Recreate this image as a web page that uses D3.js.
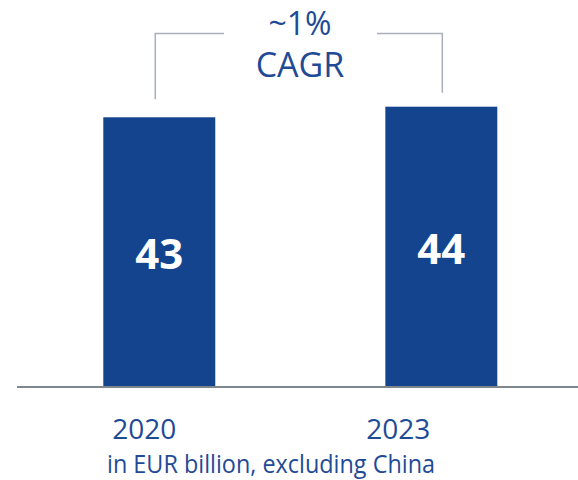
<!DOCTYPE html>
<html>
<head>
<meta charset="utf-8">
<script src="https://cdn.jsdelivr.net/npm/d3@7"></script>
<style>
  html, body { margin: 0; padding: 0; background: #fff; }
  svg { display: block; font-family: "Open Sans", "Noto Sans", sans-serif; }
</style>
</head>
<body>
<svg id="chart" width="578" height="480"></svg>
<script>
// chart data
const years = ["2020", "2023"];
const revenue = [43, 44];
const cagrLabel = ["~1%", "CAGR"];
const unitNote = "in EUR billion, excluding China";

const blue = "#15448f";
const textBlue = "#1f4b96";

let svg = d3.select("#chart");
let baseY = 387;

// band scale for the two bars
let x = d3.scaleBand()
    .domain(years)
    .range([17, 583.6])
    .paddingInner(0.603)
    .paddingOuter(0.306);

// axis starts above zero in the original, fitted to bar heights
let y = d3.scaleLinear()
    .domain([17.5, 44])
    .range([baseY, 106.7]);

let data = years.map((yr, i) => ({year: yr, value: revenue[i]}));

// bars
svg.selectAll(".bar")
    .data(data)
    .enter()
    .append("rect")
    .attr("class", "bar")
    .attr("x", d => x(d.year))
    .attr("y", d => y(d.value))
    .attr("width", x.bandwidth())
    .attr("height", d => baseY - y(d.value))
    .attr("fill", blue);

// value labels inside bars
svg.selectAll(".val")
    .data(data)
    .enter()
    .append("text")
    .attr("x", d => x(d.year) + x.bandwidth() / 2)
    .attr("y", d => (y(d.value) + baseY) / 2 + 17)
    .attr("text-anchor", "middle")
    .attr("fill", "#fff")
    .attr("font-weight", 700)
    .attr("font-size", 42)
    .text(d => d.value);

// baseline
svg.append("line")
    .attr("x1", 17).attr("x2", 578)
    .attr("y1", baseY).attr("y2", baseY)
    .attr("stroke", "#80868e")
    .attr("stroke-width", 2);

// year labels (sit a little left of the bar centres in the original)
const yearShift = [-15, -43];
svg.selectAll(".yr")
    .data(data)
    .enter()
    .append("text")
    .attr("x", (d, i) => x(d.year) + x.bandwidth() / 2 + yearShift[i])
    .attr("y", 439)
    .attr("text-anchor", "middle")
    .attr("fill", textBlue)
    .attr("font-size", 28)
    .text(d => d.year);

svg.append("text")
    .attr("x", 271)
    .attr("y", 473)
    .attr("text-anchor", "middle")
    .attr("fill", textBlue)
    .attr("font-size", 25)
    .attr("textLength", 328)
    .attr("lengthAdjust", "spacingAndGlyphs")
    .text(unitNote);

// CAGR bracket
let lx = x(years[0]) + x.bandwidth() / 2 - 4;
let rx = x(years[1]) + x.bandwidth() / 2 + 1;
let topY = 33.5;
let bracket = svg.append("g")
    .attr("fill", "none")
    .attr("stroke", "#a8afb9")
    .attr("stroke-width", 1.5);
bracket.append("path")
    .attr("d", `M${lx},${y(revenue[0]) - 18}V${topY}H224`);
bracket.append("path")
    .attr("d", `M377,${topY}H${rx}V${y(revenue[1]) - 14}`);

svg.selectAll(".cagr")
    .data(cagrLabel)
    .enter()
    .append("text")
    .attr("x", 300)
    .attr("y", (d, i) => i ? 77 : 35)
    .attr("text-anchor", "middle")
    .attr("fill", textBlue)
    .attr("font-size", (d, i) => i ? 34 : 32)
    .text(d => d);
</script>
</body>
</html>
